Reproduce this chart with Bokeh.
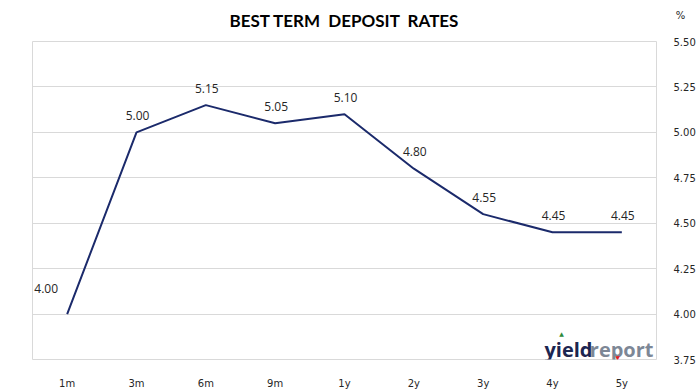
from bokeh.plotting import figure
from bokeh.models import ColumnDataSource, Label, FixedTicker, Range1d, FactorRange, CustomJSTickFormatter
from bokeh.core.properties import value
from bokeh.embed import file_html
from bokeh.resources import INLINE

terms = ["1m", "3m", "6m", "9m", "1y", "2y", "3y", "4y", "5y"]
rates = [4.00, 5.00, 5.15, 5.05, 5.10, 4.80, 4.55, 4.45, 4.45]
rate_labels = ["%.2f" % r for r in rates]
y_ticks = [3.75, 4.00, 4.25, 4.50, 4.75, 5.00, 5.25, 5.50]
title_text = "BEST TERM\u00a0 DEPOSIT\u00a0 RATES"
unit_text = "%"

GRID = "#d9d9d9"
LINE = "#1b2a6b"
TXT = "#262626"

p = figure(width=699, height=392, x_range=FactorRange(factors=terms, range_padding=0),
           y_range=Range1d(3.75, 5.50), output_backend="svg", toolbar_location=None,
           y_axis_location="right",
           min_border_left=32, min_border_right=43, min_border_top=41, min_border_bottom=33)
p.title.text = ""

# title and unit marker drawn in the top margin (canvas coordinates, top-down)
p.add_layout(Label(x=344, y=20, x_units="canvas", y_units="canvas", text=title_text,
                   text_align="center", text_baseline="middle", text_font="Lato",
                   text_font_size="17px", text_font_style="bold", text_color="#000000"), "above")
p.add_layout(Label(x=680, y=15, x_units="canvas", y_units="canvas", text=unit_text,
                   text_align="center", text_baseline="middle", text_font="DejaVu Sans",
                   text_font_size="10px", text_color=TXT), "above")

p.outline_line_color = GRID
p.outline_line_width = 1
p.xgrid.grid_line_color = None
p.ygrid.grid_line_color = GRID
p.ygrid.grid_line_width = 1

src = ColumnDataSource(dict(term=terms, rate=rates, label=rate_labels))
p.line("term", "rate", source=src, line_color=LINE, line_width=2)

first = ColumnDataSource(dict(term=terms[:1], rate=rates[:1], label=rate_labels[:1]))
rest = ColumnDataSource(dict(term=terms[1:], rate=rates[1:], label=rate_labels[1:]))
for s, xo, yo in ((first, -21, -26), (rest, 1, -17)):
    p.text("term", "rate", text="label", source=s, x_offset=xo, y_offset=yo,
           text_align="center", text_baseline="middle",
           text_font=value("Open Sans"), text_font_size="12px", text_color=TXT)

ya = p.yaxis[0]
ya.ticker = FixedTicker(ticks=y_ticks)
ya.formatter = CustomJSTickFormatter(code="return tick.toFixed(2);")
ya.axis_line_color = None
ya.major_tick_line_color = None
ya.minor_tick_line_color = None
ya.major_label_standoff = 11
ya.major_label_text_font = "DejaVu Sans"
ya.major_label_text_font_size = "10px"
ya.major_label_text_color = TXT

xa = p.xaxis[0]
xa.axis_line_color = None
xa.major_tick_line_color = None
xa.minor_tick_line_color = None
xa.major_label_standoff = 12
xa.major_label_text_font = "DejaVu Sans"
xa.major_label_text_font_size = "10px"
xa.major_label_text_color = TXT

# logo
p.add_layout(Label(x=9.0, y=3.75, text="report", x_offset=-3, y_offset=10, text_align="right",
                   text_baseline="alphabetic", text_font="Open Sans", text_font_size="20px",
                   text_font_style="bold", text_color="#7d8796"))
p.add_layout(Label(x=9.0, y=3.75, text="yield", x_offset=-64, y_offset=10, text_align="right",
                   text_baseline="alphabetic", text_font="Open Sans", text_font_size="20px",
                   text_font_style="bold", text_color="#1c2550"))
p.add_layout(Label(x=9.0, y=3.75, text="\u25b2", x_offset=-95, y_offset=26, text_align="center",
                   text_baseline="middle", text_font="DejaVu Sans", text_font_size="6px",
                   text_color="#2e8b3a"))
p.add_layout(Label(x=9.0, y=3.75, text="\u25bc", x_offset=-39, y_offset=2, text_align="center",
                   text_baseline="middle", text_font="DejaVu Sans", text_font_size="6px",
                   text_color="#e02020"))

open("out.html", "w").write(file_html(p, INLINE))
